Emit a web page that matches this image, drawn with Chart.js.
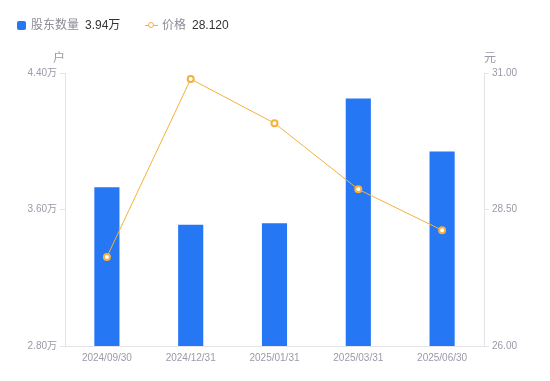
<!DOCTYPE html>
<html>
<head>
<meta charset="utf-8">
<script src="https://cdn.jsdelivr.net/npm/chart.js@4/dist/chart.umd.min.js"></script>
<style>
  html, body { margin: 0; padding: 0; background: #fff; }
  #wrap { position: relative; width: 550px; height: 381px; }
  #legend { position: absolute; left: 17px; top: 16px; font: 12px 'Liberation Sans', 'Noto Sans CJK SC', sans-serif; white-space: nowrap; }
  #legend .item { position: absolute; top: 0; line-height: 18px; }
  #legend .name { color: #8c8c99; }
  #legend .val { color: #333; margin-left: 6px; }
  .sq { display: inline-block; width: 9px; height: 9px; background: #2577F4; border-radius: 2px; vertical-align: -1px; margin-right: 5px; }
  .ln { display: inline-block; position: relative; width: 13px; height: 9px; vertical-align: -1px; margin-right: 4px; }
  .ln:before { content: ''; position: absolute; left: 0; right: 0; top: 4px; height: 1px; background: #F5B13D; }
  .ln:after { content: ''; position: absolute; left: 3px; top: 1px; width: 4px; height: 4px; border: 1.5px solid #F5B13D; border-radius: 50%; background: #fff; }
  canvas { position: absolute; left: 0; top: 0; }
</style>
</head>
<body>
<div id="wrap">
  <canvas id="chart" width="550" height="381"></canvas>
  <div id="legend">
    <span class="item" style="left:0"><span class="sq"></span><span class="name">股东数量</span><span class="val">3.94万</span></span>
    <span class="item" style="left:128px"><span class="ln"></span><span class="name">价格</span><span class="val">28.120</span></span>
  </div>
</div>
<script>
// 数据
const categorias = ['2024/09/30', '2024/12/31', '2025/01/31', '2025/03/31', '2025/06/30'];
const acionistas = [3.73, 3.51, 3.52, 4.25, 3.94]; // 万户
const precos = [27.63, 30.89, 30.08, 28.87, 28.12]; // 元

const corTick = '#9a9aa8';
const corEixo = '#e3e3e8';
const fonte = "'Liberation Sans', 'Noto Sans CJK SC', sans-serif";

// títulos dos eixos (户 / 元)
const titulosEixos = {
    id: 'titulosEixos',
    afterDraw(chart) {
        const ctx = chart.ctx;
        const area = chart.chartArea;
        ctx.save();
        ctx.font = '12px ' + fonte;
        ctx.fillStyle = corTick;
        ctx.textAlign = 'center';
        ctx.textBaseline = 'middle';
        ctx.fillText('户', area.left - 6, area.top - 14);
        ctx.fillText('元', area.right + 6, area.top - 14);
        ctx.restore();
    }
};

const ctx = document.getElementById('chart').getContext('2d');
const grafico = new Chart(ctx, {
    data: {
        labels: categorias,
        datasets: [{
            type: 'line',
            label: '价格',
            data: precos,
            yAxisID: 'y1',
            borderColor: '#F5B13D',
            borderWidth: 1,
            pointRadius: 3,
            pointBorderWidth: 2,
            pointBackgroundColor: '#fff',
            pointBorderColor: '#F5B13D',
            tension: 0,
            order: 0
        }, {
            type: 'bar',
            label: '股东数量',
            data: acionistas,
            yAxisID: 'y',
            backgroundColor: '#2577F4',
            barPercentage: 1,
            categoryPercentage: 0.3,
            order: 1
        }]
    },
    options: {
        responsive: false,
        animation: false,
        layout: { padding: { top: 73, left: 0, right: 0, bottom: 0 } },
        plugins: { legend: { display: false }, tooltip: { enabled: false } },
        scales: {
            x: {
                grid: { display: false, drawTicks: false },
                border: { color: corEixo },
                ticks: { color: corTick, font: { size: 10, family: fonte }, padding: 6, maxRotation: 0 },
                afterFit(scale) { scale.height = 35; }
            },
            y: {
                position: 'left',
                min: 2.8, max: 4.4,
                afterBuildTicks(scale) { scale.ticks = [{ value: 2.8 }, { value: 3.6 }, { value: 4.4 }]; },
                grid: { drawOnChartArea: false, drawTicks: true, tickLength: 5, color: corEixo },
                border: { color: corEixo },
                ticks: {
                    color: corTick, font: { size: 10, family: fonte }, padding: 3,
                    callback: v => v.toFixed(2) + '万'
                },
                afterFit(scale) { scale.width = 65; }
            },
            y1: {
                position: 'right',
                min: 26, max: 31,
                afterBuildTicks(scale) { scale.ticks = [{ value: 26 }, { value: 28.5 }, { value: 31 }]; },
                grid: { drawOnChartArea: false, drawTicks: true, tickLength: 5, color: corEixo },
                border: { color: corEixo },
                ticks: {
                    color: corTick, font: { size: 10, family: fonte }, padding: 3,
                    callback: v => v.toFixed(2)
                },
                afterFit(scale) { scale.width = 66; }
            }
        }
    },
    plugins: [titulosEixos]
});
</script>
</body>
</html>
